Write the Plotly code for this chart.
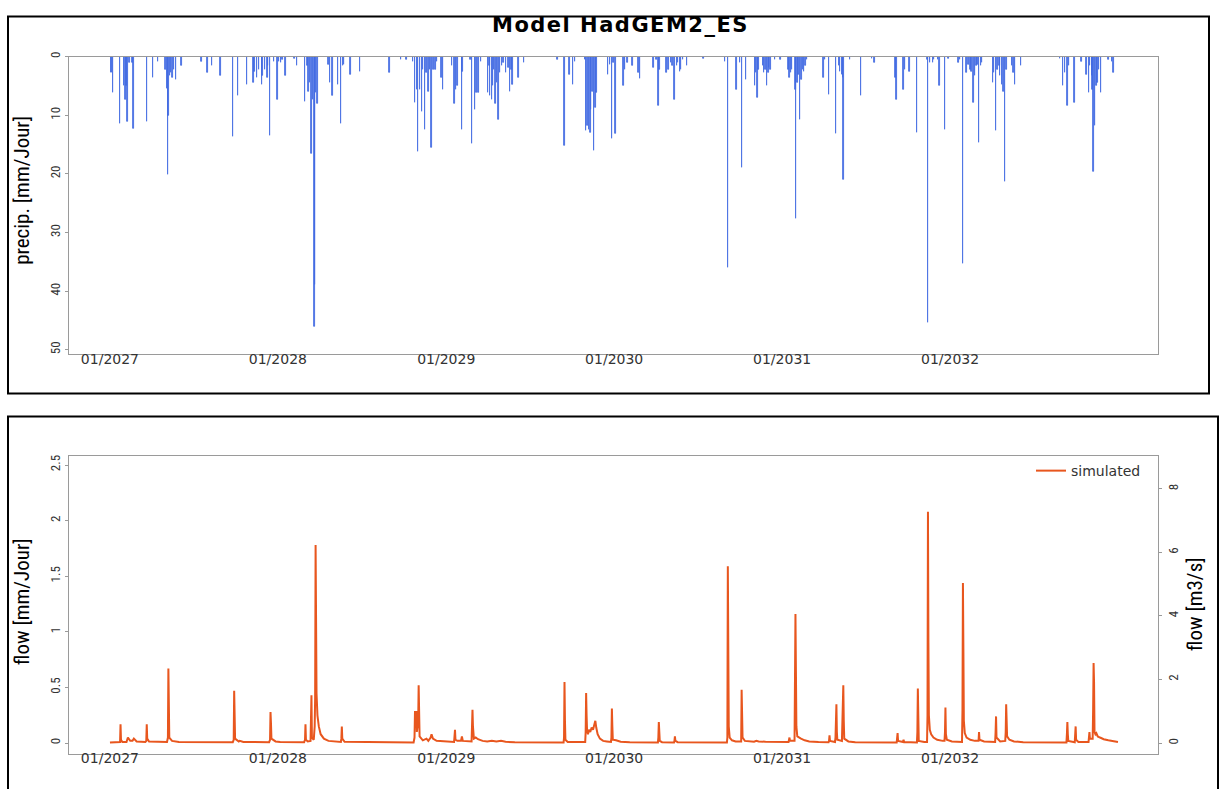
import pandas as pd
import plotly.graph_objects as go

# ---------------- data ----------------
series_start = "2027-01-01"

# daily precipitation: day offset from series start, value in mm/Jour
precip_day = [2, 5, 7, 22, 31, 34, 36, 38, 42, 49, 51, 80, 93, 104, 121, 124, 126, 127, 130, 133,
              136, 139, 143, 156, 199, 212, 222, 240, 268, 278, 298, 312, 314, 320, 324, 330, 332,
              337, 342, 344, 348, 356, 364, 367, 372, 375, 382, 401, 407, 424, 429, 432, 435, 438,
              441, 445, 446, 448, 451, 475, 478, 484, 496, 502, 507, 509, 523, 544, 608, 633, 645,
              659, 663, 667, 670, 674, 678, 681, 685, 688, 692, 696, 699, 703, 708, 711, 721, 724,
              743, 749, 752, 755, 765, 766, 784, 787, 794, 797, 801, 806, 822, 825, 826, 830, 832,
              835, 838, 841, 845, 848, 852, 855, 861, 866, 870, 873, 875, 888, 900, 973, 988, 999,
              1007, 1011, 1033, 1035, 1038, 1041, 1044, 1046, 1049, 1052, 1055, 1058, 1083, 1087,
              1091, 1094, 1099, 1116, 1120, 1125, 1136, 1149, 1152, 1181, 1188, 1192, 1194, 1210,
              1214, 1219, 1223, 1227, 1232, 1235, 1239, 1241, 1246, 1254, 1290, 1337, 1343, 1362,
              1370, 1374, 1383, 1402, 1404, 1407, 1410, 1419, 1422, 1425, 1428, 1431, 1433, 1436,
              1446, 1457, 1475, 1477, 1480, 1482, 1490, 1491, 1494, 1497, 1500, 1503, 1506, 1509,
              1512, 1515, 1551, 1554, 1563, 1578, 1585, 1587, 1591, 1593, 1594, 1609, 1633, 1656,
              1662, 1707, 1710, 1725, 1728, 1738, 1754, 1777, 1778, 1783, 1789, 1791, 1800, 1803,
              1815, 1823, 1844, 1848, 1854, 1862, 1866, 1870, 1873, 1877, 1880, 1883, 1886, 1889,
              1893, 1896, 1919, 1922, 1926, 1929, 1933, 1935, 1939, 1942, 1946, 1949, 1961, 1964,
              1967, 1980, 2065, 2071, 2076, 2081, 2084, 2096, 2112, 2123, 2128, 2130, 2134, 2136,
              2138, 2141, 2144, 2146, 2150, 2154, 2170, 2178, 2181]
precip_mm = [2.8, 2.8, 6.2, 11.5, 5.0, 7.3, 5.0, 11.1, 1.0, 1.1, 12.3, 11.1, 3.6, 0.8, 2.2, 5.5, 20.2, 10.1, 3.3, 2.8,
             3.6, 2.2, 4.0, 1.6, 0.8, 2.8, 1.6, 3.3, 13.7, 6.6, 4.7, 4.5, 2.5, 3.6, 2.2, 4.7, 3.3,
             2.2, 3.6, 1.6, 13.4, 0.8, 7.4, 0.8, 1.1, 0.5, 3.3, 0.3, 1.6, 7.6, 1.6, 6.0, 4.5, 16.6,
             7.3, 46.0, 38.9, 6.2, 8.1, 1.4, 4.5, 6.7, 4.7, 11.4, 1.6, 1.4, 3.1, 2.5, 2.8, 0.5, 0.5,
             0.8, 7.9, 5.6, 16.2, 5.6, 9.3, 2.2, 12.5, 2.8, 5.9, 2.2, 15.5, 2.2, 2.2, 0.8, 3.6, 5.6,
             1.6, 8.0, 5.6, 5.0, 12.4, 2.5, 0.5, 14.9, 9.0, 6.2, 6.2, 0.8, 6.2, 1.6, 6.7, 7.3, 5.0,
             2.2, 8.1, 4.5, 10.7, 2.8, 1.6, 1.1, 2.8, 1.9, 6.0, 2.2, 4.7, 3.6, 1.1, 0.5, 15.2, 3.1,
             4.7, 0.8, 0.5, 12.7, 11.8, 12.4, 12.9, 9.0, 5.9, 16.0, 8.7, 6.2, 3.1, 1.4,
             14.0, 1.1, 13.2, 5.0, 2.2, 1.1, 1.6, 2.8, 3.8, 1.9, 0.5, 8.3, 2.2, 2.8,
             2.2, 1.1, 1.6, 7.4, 1.6, 1.1, 2.5, 2.2, 0.5, 1.6, 0.3, 0.8, 36.0, 5.6,
             1.1, 19.0, 3.9, 5.0, 2.8, 7.0, 2.2, 1.6, 2.8, 2.2, 4.9, 2.8, 1.9, 2.2,
             0.5, 0.5, 2.2, 3.6, 2.8, 2.2, 5.6, 27.6, 4.5, 3.1, 10.7, 3.9, 2.2, 2.5,
             1.6, 0.5, 3.6, 0.5, 6.4, 13.2, 1.6, 2.5, 3.1, 3.6, 21.0, 0.5, 6.7, 0.3,
             1.1, 3.6, 7.3, 5.6, 2.2, 2.5, 12.9, 0.5, 45.4, 1.1, 1.1, 0.5, 0.5, 5.0,
             12.4, 0.3, 1.1, 0.5, 35.3, 2.8, 1.4, 2.2, 2.5, 7.9, 3.3, 1.6, 1.4, 14.6,
             1.6, 1.1, 4.5, 2.8, 12.7, 2.2, 1.6, 3.3, 4.7, 5.9, 21.4, 2.2, 1.6, 2.8,
             4.7, 1.6, 0.3, 5.0, 2.8, 8.4, 1.6, 7.9, 0.8, 3.1, 6.2, 1.6, 3.3, 5.6,
             19.7, 11.8, 5.0, 4.5, 2.2, 6.2, 0.5, 0.8, 2.8]

# simulated flow: day offset from series start, value in mm/Jour
flow_day = [0, 20, 22, 23, 24, 27, 36, 39, 44, 49, 52, 58, 77, 79, 80, 81, 85,
            124, 126, 127, 128, 129, 135, 150, 267, 269, 270, 271, 272, 280, 282, 290,
            346, 348, 349, 350, 351, 360, 370, 422, 424, 425, 426, 430, 436, 438, 439, 443,
            445, 446, 447, 448, 449, 451, 454, 458, 465, 475, 490, 502, 503, 504, 505, 510,
            660, 662, 663, 664, 666, 667, 670, 671, 672, 673, 680, 688, 692, 697, 699, 702, 710,
            748, 750, 751, 755, 763, 765, 767, 786, 787, 788, 789, 791, 795, 800, 810, 820, 830,
            840, 850, 860, 880, 986, 987, 988, 989, 990, 995, 1033, 1034, 1035, 1036, 1037, 1039,
            1041, 1044, 1047, 1050, 1053, 1055, 1057, 1060, 1065, 1072, 1080, 1089, 1090, 1091,
            1092, 1093, 1098, 1100, 1110, 1130, 1191, 1192, 1193, 1194, 1195, 1200, 1226, 1227,
            1228, 1229, 1234, 1341, 1342, 1343, 1344, 1345, 1347, 1352, 1360, 1372, 1373, 1374,
            1375, 1380, 1390, 1400, 1405, 1410, 1425, 1440, 1475, 1477, 1478, 1488, 1489, 1490,
            1491, 1492, 1494, 1497, 1502, 1510, 1520, 1540, 1562, 1563, 1564, 1565, 1576, 1577,
            1578, 1579, 1580, 1581, 1591, 1592, 1593, 1594, 1595, 1596, 1605, 1620, 1710, 1711,
            1712, 1713, 1723, 1724, 1725, 1726, 1754, 1755, 1756, 1757, 1758, 1770, 1776, 1777,
            1778, 1779, 1780, 1782, 1785, 1790, 1798, 1810, 1814, 1815, 1816, 1817, 1819, 1830,
            1850, 1852, 1853, 1854, 1855, 1856, 1858, 1862, 1870, 1880, 1888, 1889, 1890, 1900,
            1924, 1925, 1926, 1927, 1935, 1946, 1947, 1948, 1949, 1950, 1955, 1965, 1985, 2079,
            2080, 2081, 2082, 2083, 2097, 2098, 2099, 2100, 2105, 2127, 2128, 2129, 2130, 2136,
            2137, 2138, 2139, 2140, 2142, 2144, 2147, 2152, 2160, 2170, 2180, 2191]
flow_mm = [0.005, 0.005, 0.01, 0.17, 0.03, 0.01, 0.01, 0.05, 0.02, 0.02, 0.04, 0.015, 0.01, 0.02, 0.17, 0.04, 0.015,
           0.01, 0.05, 0.67, 0.38, 0.05, 0.02, 0.01, 0.008, 0.03, 0.47, 0.28, 0.04, 0.015, 0.02, 0.01,
           0.008, 0.03, 0.28, 0.18, 0.04, 0.015, 0.01, 0.008, 0.03, 0.17, 0.03, 0.015, 0.02, 0.43, 0.05, 0.03,
           0.15, 0.40, 1.78, 1.07, 0.45, 0.25, 0.15, 0.08, 0.04, 0.02, 0.012, 0.01, 0.04, 0.15, 0.04, 0.012,
           0.005, 0.05, 0.28, 0.28, 0.28, 0.10, 0.20, 0.52, 0.30, 0.06, 0.025, 0.04, 0.02, 0.05, 0.08, 0.04, 0.02,
           0.01, 0.12, 0.03, 0.02, 0.02, 0.06, 0.02, 0.015, 0.10, 0.30, 0.15, 0.04, 0.05, 0.035, 0.02, 0.015, 0.02,
           0.015, 0.02, 0.012, 0.008, 0.005, 0.05, 0.55, 0.20, 0.03, 0.01, 0.01, 0.10, 0.45, 0.25, 0.12, 0.08,
           0.12, 0.10, 0.14, 0.12, 0.17, 0.20, 0.14, 0.08, 0.04, 0.02, 0.015, 0.01, 0.05, 0.31,
           0.15, 0.03, 0.03, 0.025, 0.012, 0.008, 0.005, 0.05, 0.19, 0.10, 0.02, 0.008, 0.006, 0.02,
           0.06, 0.02, 0.008, 0.005, 0.05, 1.59, 0.90, 0.15, 0.05, 0.025, 0.015, 0.015, 0.48, 0.25,
           0.05, 0.02, 0.015, 0.012, 0.02, 0.015, 0.012, 0.01, 0.01, 0.05, 0.02, 0.02, 0.60, 1.16,
           0.65, 0.15, 0.06, 0.05, 0.04, 0.025, 0.015, 0.01, 0.008, 0.02, 0.07, 0.02, 0.01, 0.05,
           0.20, 0.35, 0.10, 0.03, 0.02, 0.27, 0.27, 0.52, 0.20, 0.04, 0.015, 0.008, 0.005, 0.03,
           0.09, 0.02, 0.006, 0.01, 0.03, 0.01, 0.006, 0.10, 0.49, 0.10, 0.02, 0.01, 0.01, 0.25,
           2.08, 0.90, 0.25, 0.12, 0.08, 0.05, 0.03, 0.02, 0.02, 0.10, 0.32, 0.08, 0.03, 0.015,
           0.01, 0.01, 0.30, 1.44, 0.85, 0.20, 0.09, 0.05, 0.03, 0.02, 0.02, 0.10, 0.03, 0.015,
           0.01, 0.10, 0.24, 0.05, 0.015, 0.02, 0.10, 0.35, 0.18, 0.06, 0.03, 0.015, 0.008, 0.005,
           0.08, 0.19, 0.08, 0.02, 0.008, 0.06, 0.15, 0.03, 0.01, 0.01, 0.10, 0.10, 0.04, 0.04,
           0.30, 0.72, 0.55, 0.10, 0.08, 0.09, 0.06, 0.05, 0.035, 0.025, 0.015, 0.01]

# m3/s per mm/Jour for the catchment (right axis scale)
mm_to_m3s = 3.5

tick_labels = ["01/2027", "01/2028", "01/2029", "01/2030", "01/2031", "01/2032"]
precip_ticks = [0, 10, 20, 30, 40, 50]
flow_ticks = [0, 0.5, 1, 1.5, 2, 2.5]
flow_m3s_ticks = [0, 2, 4, 6, 8]

# ---------------- build ----------------
t0 = pd.Timestamp(series_start)
precip_dates = t0 + pd.to_timedelta(precip_day, unit="D")
flow_dates = t0 + pd.to_timedelta(flow_day, unit="D")
tick_dates = [pd.to_datetime(s, format="%m/%Y") for s in tick_labels]

W, H = 1220, 789
def px(x):
    return x / W
def py(y):
    return 1 - y / H

BLUE = "#4169E1"
ORANGE = "#E8561E"
AXC = "#9a9a9a"
TXT = "#333333"
NARROW = "Liberation Sans Narrow, Arial Narrow, Roboto Condensed, sans-serif"
WIDE = "DejaVu Sans, Verdana, sans-serif"

fig = go.Figure()
fig.add_trace(go.Bar(x=precip_dates, y=precip_mm, width=86400000 * 1.0,
                     marker=dict(color=BLUE, line=dict(color=BLUE, width=0.8)),
                     showlegend=False, xaxis="x", yaxis="y", name="precip"))
fig.add_trace(go.Scatter(x=flow_dates, y=flow_mm, mode="lines", name="simulated",
                         line=dict(color=ORANGE, width=2), xaxis="x2", yaxis="y2"))
fig.add_trace(go.Scatter(x=flow_dates, y=[v * mm_to_m3s for v in flow_mm], mode="lines",
                         line=dict(color="rgba(0,0,0,0)", width=0), showlegend=False,
                         hoverinfo="skip", xaxis="x2", yaxis="y3"))

xr = ["2026-10-04", "2033-03-28"]
xdom = [px(69), px(1158)]
common_x = dict(type="date", range=xr, domain=xdom, tickvals=tick_dates, ticktext=tick_labels,
                showline=True, mirror=True, linecolor=AXC, linewidth=1, ticks="",
                showgrid=False, zeroline=False,
                tickfont=dict(family=WIDE, size=14, color=TXT))
common_y = dict(showline=True, mirror=True, linecolor=AXC, linewidth=1, ticks="outside",
                ticklen=3, tickcolor=AXC, showgrid=False, zeroline=False, tickangle=-90,
                tickfont=dict(family=NARROW, size=13, color=TXT))

fig.update_layout(
    width=W, height=H, margin=dict(l=0, r=0, t=0, b=0, pad=0),
    paper_bgcolor="white", plot_bgcolor="white", bargap=0,
    xaxis=dict(**common_x, anchor="y", ticklabelstandoff=-8),
    yaxis=dict(**common_y, domain=[py(351), py(52)], range=[50.7, 0], tickvals=precip_ticks,
               anchor="x"),
    xaxis2=dict(**common_x, anchor="y2", ticklabelstandoff=-9),
    yaxis2=dict(**common_y, domain=[py(754), py(454)], range=[-0.1, 2.58], tickvals=flow_ticks,
                anchor="x2"),
    yaxis3=dict(showline=False, ticks="outside", ticklen=3, tickcolor=AXC, showgrid=False,
                zeroline=False, tickangle=-90, overlaying="y2", side="right", anchor="x2",
                range=[-0.1 * mm_to_m3s, 2.58 * mm_to_m3s], tickvals=flow_m3s_ticks,
                tickfont=dict(family=NARROW, size=13, color=TXT)),
    legend=dict(x=px(1031), y=py(469), xanchor="left", yanchor="middle",
                bgcolor="rgba(0,0,0,0)", font=dict(family=WIDE, size=14, color=TXT)),
    shapes=[
        dict(type="rect", xref="paper", yref="paper", x0=px(8), x1=px(1209), y0=py(391), y1=py(11.5),
             line=dict(color="black", width=2)),
        dict(type="rect", xref="paper", yref="paper", x0=px(8), x1=px(1218), y0=py(800), y1=py(414),
             line=dict(color="black", width=2)),
    ],
    annotations=[
        dict(text="<b><span style='letter-spacing:1.5px'>Model HadGEM2_ES</span></b>",
             xref="paper", yref="paper", x=px(620), y=py(20.5),
             xanchor="center", yanchor="middle", showarrow=False,
             font=dict(family=WIDE, size=21, color="black")),
        dict(text="precip. [mm/Jour]", xref="paper", yref="paper", x=px(22), y=py(187),
             xanchor="center", yanchor="middle", showarrow=False, textangle=-90,
             font=dict(family=NARROW, size=21, color="black")),
        dict(text="flow [mm/Jour]", xref="paper", yref="paper", x=px(22), y=py(601),
             xanchor="center", yanchor="middle", showarrow=False, textangle=-90,
             font=dict(family=NARROW, size=21, color="black")),
        dict(text="flow [m3/s]", xref="paper", yref="paper", x=px(1195), y=py(603),
             xanchor="center", yanchor="middle", showarrow=False, textangle=-90,
             font=dict(family=NARROW, size=21, color="black")),
    ],
)

fig.write_html("out.html", config={"displayModeBar": False},
               post_script="document.body.style.margin='0';document.body.style.overflow='hidden';")
